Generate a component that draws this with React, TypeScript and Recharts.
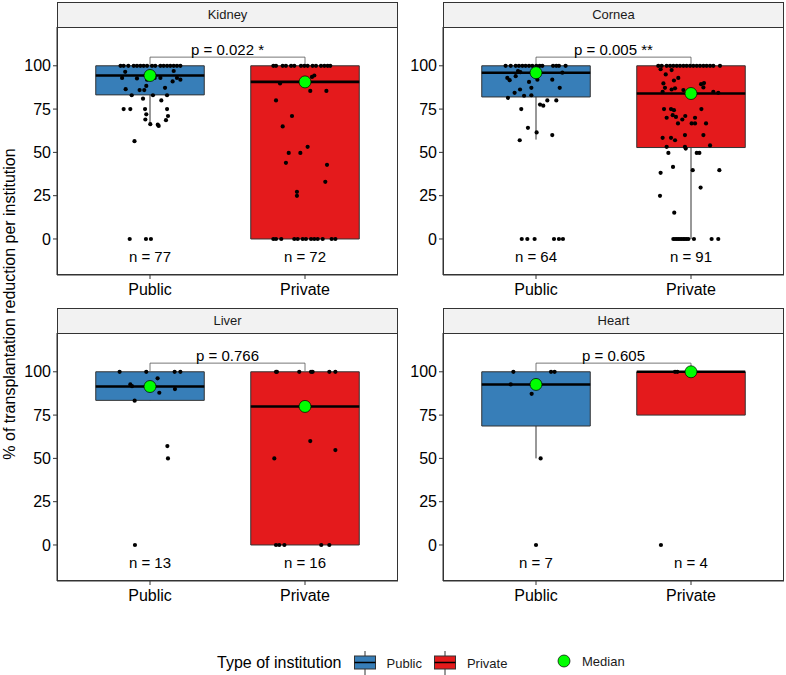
import React from 'react';
import { ComposedChart, ReferenceArea, ReferenceLine, Scatter, XAxis, YAxis } from 'recharts';

// groups on the x axis: 1 = Public, 2 = Private
const groups = ['Public', 'Private'];
const yTicks = [0, 25, 50, 75, 100];
const groupColors = ['#377EB8', '#E41A1C'];

// [jitter, value] pairs
const kidneyPublic: [number, number][] = [
    [-0.19, 100], [-0.17, 100], [-0.14, 100], [-0.105, 100], [-0.084, 100], [-0.062, 100], [-0.041, 100], [-0.019, 100],
    [0.013, 100], [0.034, 100], [0.067, 100], [0.088, 100], [0.11, 100], [0.131, 100], [0.153, 100], [0.174, 100], [0.196, 100],
    [-0.16, 96.5], [-0.18, 93], [-0.084, 92.7], [-0.019, 92], [0.03, 93], [0.067, 93], [0.153, 97], [0.174, 93], [0.196, 92],
    [0.146, 91], [-0.157, 86.5], [-0.067, 86], [-0.037, 86], [-0.024, 88.4], [0.097, 87.3], [-0.118, 83], [-0.045, 81],
    [0.019, 83], [0.073, 80], [0.11, 83], [-0.17, 75], [-0.127, 75], [-0.032, 75], [-0.024, 72], [0.11, 75], [0.116, 71],
    [-0.03, 69], [0.103, 68.6], [0.002, 66.3], [0.05, 66], [0.056, 65.3], [-0.1, 56.5], [-0.131, 0], [-0.026, 0], [0.006, 0],
];
const kidneyPrivate: [number, number][] = [
    [-0.204, 100], [-0.187, 100], [-0.144, 100], [-0.123, 100], [-0.09, 100], [-0.069, 100], [-0.026, 100], [-0.004, 100],
    [0.017, 100], [0.049, 100], [0.071, 100], [0.103, 100], [0.125, 100], [0.146, 100], [0.163, 100],
    [0.06, 94.4], [0.045, 93.6], [-0.161, 89.8], [0.034, 85.5], [0.138, 85.5], [-0.187, 80], [-0.084, 71], [-0.144, 65],
    [0.017, 53.2], [-0.105, 49.7], [-0.03, 49.7], [-0.123, 44], [0.142, 42.8], [0.131, 33], [-0.052, 27.2], [-0.052, 24.9],
    [-0.204, 0], [-0.187, 0], [-0.153, 0], [-0.069, 0], [-0.047, 0], [-0.015, 0], [0.006, 0], [0.039, 0], [0.06, 0],
    [0.082, 0], [0.114, 0], [0.172, 0], [0.196, 0],
];
const corneaPublic: [number, number][] = [
    [-0.196, 100], [-0.163, 100], [-0.131, 100], [-0.11, 100], [-0.088, 100], [-0.067, 100], [-0.045, 100], [-0.024, 100],
    [0.002, 100], [0.024, 100], [0.041, 100], [0.11, 100], [0.131, 100], [0.148, 100], [0.191, 100],
    [-0.116, 97], [-0.101, 96.3], [-0.185, 93], [-0.17, 91.7], [-0.131, 94], [-0.045, 90.7], [0.105, 92], [0.17, 96], [0.009, 92],
    [-0.03, 87.3], [0.153, 87.3], [-0.103, 86.3], [-0.138, 84.4], [-0.077, 82.7], [-0.03, 83], [-0.181, 81.5],
    [0.026, 77.6], [0.047, 77], [0.073, 80], [0.131, 80], [-0.095, 75], [-0.052, 64.2], [0.004, 61.5], [0.105, 60], [-0.105, 57],
    [-0.092, 0], [-0.056, 0], [-0.009, 0], [0.116, 0], [0.148, 0], [0.174, 0],
];
const corneaPrivate: [number, number][] = [
    [-0.211, 100], [-0.189, 100], [-0.157, 100], [-0.135, 100], [-0.114, 100], [-0.092, 100], [-0.071, 100], [-0.049, 100],
    [-0.028, 100], [-0.006, 100], [0.015, 100], [0.037, 100], [0.058, 100], [0.08, 100], [0.101, 100], [0.123, 100],
    [0.144, 100], [0.187, 100],
    [-0.196, 98], [-0.125, 97.5], [-0.163, 95], [-0.082, 93], [-0.11, 91.5], [0.065, 89.4], [0.084, 90], [-0.178, 89.8],
    [0.08, 87.5], [-0.103, 87], [-0.168, 87.3], [-0.125, 86.3], [-0.049, 86], [0.144, 85], [0.176, 84.4], [-0.183, 85],
    [-0.174, 75], [-0.129, 75], [-0.11, 74.4], [0.067, 75], [-0.118, 71.5], [-0.097, 70.5], [-0.037, 71], [-0.157, 70],
    [-0.056, 69], [0.026, 70], [-0.084, 66.7], [0.004, 66.7], [0.026, 66.7], [0.097, 66.7],
    [-0.039, 60], [0.08, 60], [-0.183, 58.4], [-0.129, 58.4], [-0.103, 57], [0.123, 54], [-0.157, 53.2], [-0.039, 53.2],
    [-0.034, 52.2], [-0.146, 49.7], [0.037, 49.7], [0.054, 49.7], [-0.116, 41.6], [0.011, 39.7], [0.183, 39.7], [-0.196, 38.2],
    [0.062, 29.7], [-0.2, 24.9], [-0.108, 15.2],
    [-0.114, 0], [-0.103, 0], [-0.092, 0], [-0.082, 0], [-0.071, 0], [-0.06, 0], [-0.049, 0], [-0.039, 0], [-0.028, 0],
    [-0.017, 0], [0.019, 0], [0.133, 0], [0.176, 0],
];
const liverPublic: [number, number][] = [
    [-0.196, 100], [-0.024, 100], [0.159, 100], [0.196, 100], [0.049, 96.2], [-0.127, 92.7], [-0.116, 91.7], [0.06, 87.9],
    [0.161, 90], [-0.099, 83.3], [0.112, 57.1], [0.116, 50], [-0.097, 0],
];
const liverPrivate: [number, number][] = [
    [-0.187, 100], [-0.181, 100], [-0.037, 100], [0.039, 100], [0.049, 100], [0.157, 100], [0.196, 100], [0.034, 60],
    [0.196, 54.8], [-0.198, 50], [-0.187, 0], [-0.166, 0], [-0.133, 0], [0.105, 0], [0.157, 0],
];
const heartPublic: [number, number][] = [
    [-0.146, 100], [0.097, 100], [0.12, 100], [-0.163, 92.7], [-0.028, 87.3], [0.03, 50], [0, 0],
];
const heartPrivate: [number, number][] = [
    [-0.103, 100], [-0.088, 100], [0, 100], [-0.194, 0],
];

// box stats per group: [lower whisker, Q1, median, Q3, upper whisker]
const kidneyBoxes = [[66.3, 83.2, 94.4, 100, 100], [0, 0, 90.7, 100, 100]];
const corneaBoxes = [[57.4, 82, 96, 100, 100], [0, 52.8, 84, 100, 100]];
const liverBoxes = [[83.3, 83.5, 91.5, 100, 100], [0, 0, 80, 100, 100]];
const heartBoxes = [[50, 68.7, 92.7, 100, 100], [75, 75, 100, 100, 100]];

const kidneyCounts = ['n = 77', 'n = 72'];
const corneaCounts = ['n = 64', 'n = 91'];
const liverCounts = ['n = 13', 'n = 16'];
const heartCounts = ['n = 7', 'n = 4'];

const pLabels = ['p = 0.022 *', 'p = 0.005 **', 'p = 0.766', 'p = 0.605'];
const panelNames = ['Kidney', 'Cornea', 'Liver', 'Heart'];

const FONT = '"Liberation Sans", Arial, sans-serif';
const Y_DOMAIN = [-20.8, 122.4];
const BOX_HALF = 0.35;

type PanelProps = {
    title: string;
    pub: [number, number][];
    priv: [number, number][];
    boxes: number[][];
    counts: string[];
    pLabel: string;
    left: number;
    top: number;
};

const dotShape = (props: any) => <circle cx={props.cx} cy={props.cy} r={2.1} fill="#000" />;
const medianShape = (props: any) => (
    <circle cx={props.cx} cy={props.cy} r={6} fill="#00FF00" stroke="#000" strokeWidth={0.7} />
);
const textShape = (props: any) => (
    <text x={props.cx} y={props.cy} dy="0.35em" textAnchor="middle" fontSize={15} fill="#000">
        {props.payload.label}
    </text>
);

function Panel({ title, pub, priv, boxes, counts, pLabel, left, top }: PanelProps) {
    const points = [
        ...pub.map(([j, v]) => ({ x: 1 + j, y: v })),
        ...priv.map(([j, v]) => ({ x: 2 + j, y: v })),
    ];
    const medians = boxes.map((b, i) => ({ x: i + 1, y: b[2] }));
    const countLabels = counts.map((c, i) => ({ x: i + 1, y: -10, label: c }));
    const pText = [{ x: 1.5, y: 109, label: pLabel }];

    return (
        <>
            <div
                style={{
                    position: 'absolute', left: left + 37, top: top - 25, width: 341, height: 26,
                    boxSizing: 'border-box', border: '1px solid #333', background: '#F2F2F2',
                    fontSize: 13, color: '#1A1A1A', textAlign: 'center', lineHeight: '24px',
                }}
            >
                {title}
            </div>
            <div style={{ position: 'absolute', left, top }}>
                <ComposedChart width={378} height={278} margin={{ top: 0, right: 0, bottom: 0, left: 0 }}>
                    <XAxis
                        type="number"
                        dataKey="x"
                        domain={[0.4, 2.6]}
                        ticks={[1, 2]}
                        allowDataOverflow
                        tickFormatter={(v) => groups[v - 1]}
                        tick={{ fontSize: 16, fill: '#000' }}
                        tickSize={4}
                        tickMargin={5}
                        height={30}
                        stroke="#333"
                    />
                    <YAxis
                        type="number"
                        dataKey="y"
                        domain={Y_DOMAIN}
                        ticks={yTicks}
                        allowDataOverflow
                        tick={{ fontSize: 16, fill: '#000' }}
                        tickSize={4}
                        tickMargin={2}
                        width={37}
                        stroke="#333"
                    />
                    {boxes.map((b, i) => (
                        <ReferenceArea
                            key={`box${i}`}
                            x1={i + 1 - BOX_HALF}
                            x2={i + 1 + BOX_HALF}
                            y1={b[1]}
                            y2={b[3]}
                            fill={groupColors[i]}
                            fillOpacity={1}
                            stroke="#333"
                            strokeWidth={1}
                        />
                    ))}
                    {boxes.map((b, i) =>
                        b[0] < b[1] ? (
                            <ReferenceLine
                                key={`wl${i}`}
                                segment={[{ x: i + 1, y: b[0] }, { x: i + 1, y: b[1] }]}
                                stroke="#333"
                                strokeWidth={1}
                            />
                        ) : null,
                    )}
                    {boxes.map((b, i) =>
                        b[4] > b[3] ? (
                            <ReferenceLine
                                key={`wh${i}`}
                                segment={[{ x: i + 1, y: b[3] }, { x: i + 1, y: b[4] }]}
                                stroke="#333"
                                strokeWidth={1}
                            />
                        ) : null,
                    )}
                    {boxes.map((b, i) => (
                        <ReferenceLine
                            key={`med${i}`}
                            segment={[{ x: i + 1 - BOX_HALF, y: b[2] }, { x: i + 1 + BOX_HALF, y: b[2] }]}
                            stroke="#000"
                            strokeWidth={2.6}
                        />
                    ))}
                    <ReferenceLine segment={[{ x: 1, y: 105 }, { x: 2, y: 105 }]} stroke="#555" strokeWidth={0.8} />
                    <ReferenceLine segment={[{ x: 1, y: 105 }, { x: 1, y: 100.5 }]} stroke="#555" strokeWidth={0.8} />
                    <ReferenceLine segment={[{ x: 2, y: 105 }, { x: 2, y: 100.5 }]} stroke="#555" strokeWidth={0.8} />
                    <Scatter data={points} shape={dotShape} isAnimationActive={false} />
                    <Scatter data={medians} shape={medianShape} isAnimationActive={false} />
                    <Scatter data={countLabels} shape={textShape} isAnimationActive={false} />
                    <Scatter data={pText} shape={textShape} isAnimationActive={false} />
                </ComposedChart>
            </div>
            <div
                style={{
                    position: 'absolute', left: left + 37, top, width: 341, height: 248,
                    boxSizing: 'border-box', border: '1.2px solid #333', pointerEvents: 'none',
                }}
            />
        </>
    );
}

function BoxKey({ color }: { color: string }) {
    return (
        <svg width={22} height={24} style={{ display: 'block' }}>
            <line x1={11} y1={0} x2={11} y2={24} stroke="#333" strokeWidth={1} />
            <rect x={0.5} y={5} width={21} height={13} fill={color} stroke="#333" strokeWidth={1} />
            <line x1={0.5} y1={11.5} x2={21.5} y2={11.5} stroke="#000" strokeWidth={1.5} />
        </svg>
    );
}

export default function App() {
    return (
        <div style={{ position: 'absolute', left: 0, top: 0, width: 786, height: 675, background: '#fff', fontFamily: FONT }}>
            <Panel title={panelNames[0]} pub={kidneyPublic} priv={kidneyPrivate} boxes={kidneyBoxes} counts={kidneyCounts} pLabel={pLabels[0]} left={20} top={27} />
            <Panel title={panelNames[1]} pub={corneaPublic} priv={corneaPrivate} boxes={corneaBoxes} counts={corneaCounts} pLabel={pLabels[1]} left={406} top={27} />
            <Panel title={panelNames[2]} pub={liverPublic} priv={liverPrivate} boxes={liverBoxes} counts={liverCounts} pLabel={pLabels[2]} left={20} top={333} />
            <Panel title={panelNames[3]} pub={heartPublic} priv={heartPrivate} boxes={heartBoxes} counts={heartCounts} pLabel={pLabels[3]} left={406} top={333} />

            <svg width={30} height={675} style={{ position: 'absolute', left: 0, top: 0 }}>
                <text x={15} y={304} transform="rotate(-90 15 304)" textAnchor="middle" fontSize={16} fill="#000">
                    % of transplantation reduction per institution
                </text>
            </svg>

            <div style={{ position: 'absolute', left: 217, top: 651, height: 24, display: 'flex', alignItems: 'center' }}>
                <span style={{ fontSize: 16, color: '#000', marginRight: 12 }}>Type of institution</span>
                <BoxKey color={groupColors[0]} />
                <span style={{ fontSize: 13, color: '#1A1A1A', marginLeft: 11, marginRight: 12 }}>{groups[0]}</span>
                <BoxKey color={groupColors[1]} />
                <span style={{ fontSize: 13, color: '#1A1A1A', marginLeft: 11 }}>{groups[1]}</span>
            </div>
            <div style={{ position: 'absolute', left: 557, top: 650, height: 22, display: 'flex', alignItems: 'center' }}>
                <svg width={14} height={14} style={{ display: 'block' }}>
                    <circle cx={7} cy={7} r={6} fill="#00FF00" stroke="#000" strokeWidth={0.7} />
                </svg>
                <span style={{ fontSize: 13, color: '#1A1A1A', marginLeft: 11 }}>Median</span>
            </div>
        </div>
    );
}
